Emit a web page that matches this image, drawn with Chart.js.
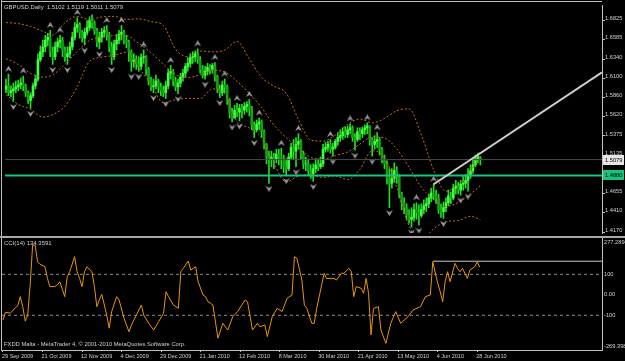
<!DOCTYPE html>
<html>
 <head>
  <meta charset="utf-8" />
  <title>GBPUSD,Daily</title>
  <style>
   html, body { margin: 0; padding: 0; background: #000; }
   #wrap { position: relative; width: 625px; height: 361px; background: #000; overflow: hidden; }
   canvas { position: absolute; left: 0; }
  </style>
 </head>
 <body>
  <div id="wrap">
   <canvas id="priceChart" width="625" height="238" style="top:0px"></canvas>
   <canvas id="cciChart" width="625" height="123" style="top:238px"></canvas>
  </div>

  <script src="https://cdnjs.cloudflare.com/ajax/libs/Chart.js/4.4.1/chart.umd.min.js"></script>
  <script>
// daily bars, 29 Sep 2009 .. 28 Jun 2010 (index = bar number)
const opens = [1.5960,1.6003,1.5918,1.5942,1.5966,1.5991,1.6015,1.6040,1.6003,1.5918,
1.5820,1.5881,1.6003,1.6089,1.6333,1.6431,1.6492,1.6577,1.6614,1.6431,
1.6370,1.6492,1.6553,1.6577,1.6455,1.6370,1.6407,1.6492,1.6614,1.6736,
1.6774,1.6675,1.6602,1.6675,1.6736,1.6822,1.6798,1.6699,1.6553,1.6614,
1.6675,1.6699,1.6651,1.6492,1.6370,1.6529,1.6577,1.6651,1.6675,1.6577,
1.6553,1.6431,1.6309,1.6333,1.6285,1.6248,1.6358,1.6370,1.6211,1.6064,
1.5991,1.6003,1.6064,1.5991,1.5942,1.5918,1.6003,1.6162,1.6187,1.6064,
1.5991,1.6040,1.6114,1.6162,1.6248,1.6285,1.6358,1.6370,1.6407,1.6333,
1.6211,1.6138,1.6187,1.6236,1.6211,1.6260,1.6126,1.5966,1.5918,1.6015,
1.5991,1.5820,1.5674,1.5600,1.5698,1.5674,1.5722,1.5698,1.5747,1.5771,
1.5722,1.5514,1.5453,1.5527,1.5551,1.5429,1.5270,1.5111,1.5087,1.5111,
1.5087,1.5148,1.5111,1.5087,1.4989,1.4965,1.5111,1.5233,1.5185,1.5270,
1.5307,1.5148,1.5026,1.5026,1.4940,1.4904,1.4965,1.5014,1.4989,1.5026,
1.5209,1.5233,1.5270,1.5209,1.5233,1.5307,1.5356,1.5380,1.5429,1.5392,
1.5453,1.5478,1.5356,1.5331,1.5429,1.5404,1.5453,1.5478,1.5502,1.5331,
1.5270,1.5307,1.5331,1.5209,1.5087,1.5026,1.4842,1.4781,1.4842,1.4940,
1.4867,1.4647,1.4537,1.4476,1.4378,1.4329,1.4354,1.4451,1.4415,1.4378,
1.4451,1.4500,1.4525,1.4598,1.4659,1.4622,1.4598,1.4451,1.4427,1.4476,
1.4537,1.4622,1.4598,1.4720,1.4745,1.4696,1.4769,1.4781,1.4818,1.4891,
1.4940,1.5014,1.5087,1.5102];

const highs = [1.6089,1.6150,1.6003,1.6040,1.6064,1.6077,1.6102,1.6126,1.6027,1.5942,
1.5918,1.6040,1.6138,1.6407,1.6504,1.6577,1.6638,1.6663,1.6699,1.6492,
1.6553,1.6602,1.6638,1.6614,1.6492,1.6492,1.6553,1.6675,1.6798,1.6859,
1.6798,1.6699,1.6724,1.6822,1.6871,1.6896,1.6822,1.6724,1.6675,1.6724,
1.6749,1.6761,1.6675,1.6553,1.6577,1.6651,1.6699,1.6761,1.6699,1.6638,
1.6577,1.6455,1.6407,1.6382,1.6370,1.6407,1.6455,1.6382,1.6236,1.6114,
1.6089,1.6138,1.6089,1.6040,1.6003,1.6064,1.6211,1.6260,1.6211,1.6114,
1.6089,1.6162,1.6211,1.6285,1.6358,1.6407,1.6431,1.6443,1.6468,1.6370,
1.6260,1.6248,1.6285,1.6272,1.6285,1.6297,1.6138,1.6015,1.6064,1.6089,
1.6015,1.5845,1.5722,1.5759,1.5783,1.5771,1.5771,1.5796,1.5808,1.5832,
1.5747,1.5551,1.5576,1.5600,1.5576,1.5453,1.5282,1.5185,1.5185,1.5160,
1.5209,1.5209,1.5221,1.5136,1.5087,1.5160,1.5282,1.5331,1.5356,1.5404,
1.5331,1.5185,1.5111,1.5087,1.5014,1.5026,1.5087,1.5087,1.5111,1.5270,
1.5294,1.5307,1.5331,1.5282,1.5331,1.5417,1.5453,1.5478,1.5490,1.5502,
1.5527,1.5502,1.5404,1.5478,1.5478,1.5490,1.5514,1.5539,1.5502,1.5356,
1.5380,1.5417,1.5356,1.5233,1.5136,1.5063,1.4965,1.4965,1.5038,1.4989,
1.4891,1.4671,1.4598,1.4525,1.4451,1.4476,1.4525,1.4537,1.4512,1.4525,
1.4574,1.4598,1.4647,1.4720,1.4769,1.4696,1.4647,1.4525,1.4549,1.4598,
1.4696,1.4671,1.4769,1.4818,1.4794,1.4818,1.4867,1.4891,1.4965,1.5014,
1.5087,1.5136,1.5160,1.5119];

const lows = [1.5918,1.5881,1.5869,1.5808,1.5918,1.5942,1.5966,1.5942,1.5869,1.5783,
1.5722,1.5857,1.5966,1.6064,1.6309,1.6370,1.6431,1.6504,1.6370,1.6272,
1.6333,1.6431,1.6480,1.6370,1.6309,1.6272,1.6358,1.6455,1.6577,1.6675,
1.6602,1.6553,1.6516,1.6638,1.6699,1.6724,1.6651,1.6492,1.6468,1.6553,
1.6614,1.6577,1.6431,1.6272,1.6333,1.6455,1.6529,1.6577,1.6529,1.6480,
1.6309,1.6187,1.6236,1.6211,1.6187,1.6211,1.6285,1.6138,1.6015,1.5942,
1.5918,1.5966,1.5918,1.5881,1.5869,1.5845,1.5966,1.6089,1.6003,1.5942,
1.5906,1.5991,1.6064,1.6114,1.6187,1.6236,1.6285,1.6309,1.6285,1.6162,
1.6102,1.6089,1.6138,1.6150,1.6162,1.6064,1.5918,1.5857,1.5881,1.5918,
1.5771,1.5600,1.5551,1.5600,1.5613,1.5564,1.5600,1.5649,1.5674,1.5625,
1.5453,1.5356,1.5429,1.5453,1.5356,1.5209,1.5026,1.4781,1.4989,1.4965,
1.5038,1.5014,1.4965,1.4916,1.4879,1.4940,1.5087,1.5087,1.4989,1.5209,
1.5087,1.4965,1.4940,1.4891,1.4842,1.4806,1.4916,1.4940,1.4965,1.4989,
1.5172,1.5185,1.5160,1.5123,1.5209,1.5258,1.5307,1.5331,1.5356,1.5356,
1.5404,1.5307,1.5197,1.5307,1.5331,1.5356,1.5392,1.5404,1.5258,1.5123,
1.5209,1.5233,1.5136,1.5038,1.4965,1.4769,1.4476,1.4720,1.4794,1.4781,
1.4598,1.4451,1.4402,1.4329,1.4280,1.4231,1.4305,1.4329,1.4256,1.4354,
1.4402,1.4427,1.4476,1.4549,1.4574,1.4525,1.4402,1.4354,1.4341,1.4427,
1.4500,1.4525,1.4574,1.4647,1.4647,1.4635,1.4696,1.4720,1.4684,1.4842,
1.4904,1.4989,1.5038,1.5011];

const closes = [1.6003,1.5918,1.5942,1.5966,1.5991,1.6015,1.6040,1.6003,1.5918,1.5820,
1.5881,1.6003,1.6089,1.6333,1.6431,1.6492,1.6577,1.6614,1.6431,1.6370,
1.6492,1.6553,1.6577,1.6455,1.6370,1.6407,1.6492,1.6614,1.6736,1.6774,
1.6675,1.6602,1.6675,1.6736,1.6822,1.6798,1.6699,1.6553,1.6614,1.6675,
1.6699,1.6651,1.6492,1.6370,1.6529,1.6577,1.6651,1.6675,1.6577,1.6553,
1.6431,1.6309,1.6333,1.6285,1.6248,1.6358,1.6370,1.6211,1.6064,1.5991,
1.6003,1.6064,1.5991,1.5942,1.5918,1.6003,1.6162,1.6187,1.6064,1.5991,
1.6040,1.6114,1.6162,1.6248,1.6285,1.6358,1.6370,1.6407,1.6333,1.6211,
1.6138,1.6187,1.6236,1.6211,1.6260,1.6126,1.5966,1.5918,1.6015,1.5991,
1.5820,1.5674,1.5600,1.5698,1.5674,1.5722,1.5698,1.5747,1.5771,1.5722,
1.5514,1.5453,1.5527,1.5551,1.5429,1.5270,1.5111,1.5087,1.5111,1.5087,
1.5148,1.5111,1.5087,1.4989,1.4965,1.5111,1.5233,1.5185,1.5270,1.5307,
1.5148,1.5026,1.5026,1.4940,1.4904,1.4965,1.5014,1.4989,1.5026,1.5209,
1.5233,1.5270,1.5209,1.5233,1.5307,1.5356,1.5380,1.5429,1.5392,1.5453,
1.5478,1.5356,1.5331,1.5429,1.5404,1.5453,1.5478,1.5502,1.5331,1.5270,
1.5307,1.5331,1.5209,1.5087,1.5026,1.4842,1.4781,1.4842,1.4940,1.4867,
1.4647,1.4537,1.4476,1.4378,1.4329,1.4354,1.4451,1.4415,1.4378,1.4451,
1.4500,1.4525,1.4598,1.4659,1.4622,1.4598,1.4451,1.4427,1.4476,1.4537,
1.4622,1.4598,1.4720,1.4745,1.4696,1.4769,1.4781,1.4818,1.4891,1.4940,
1.5014,1.5087,1.5123,1.5079];

// Bollinger bands (20) read at sample bars
const bandBars   = [0,5,10,15,19,24,29,34,39,44,49,54,59,64,69,74,79,84,89,94,99,104,109,114,119,124,129,134,139,144,149,154,159,164,169,174,179,184,189,193];
const bandUpper  = [1.6798,1.6785,1.6749,1.6688,1.6641,1.6796,1.6875,1.6836,1.6868,1.6875,1.6837,1.6844,1.6810,1.6762,1.6462,1.6370,1.6441,1.6430,1.6453,1.6561,1.6342,1.6110,1.6000,1.5912,1.5582,1.5323,1.5310,1.5387,1.5522,1.5588,1.5541,1.5595,1.5692,1.5715,1.5387,1.4949,1.4682,1.4767,1.4931,1.5176];
const bandMiddle = [1.6345,1.6272,1.6162,1.6113,1.6142,1.6273,1.6435,1.6573,1.6616,1.6631,1.6631,1.6536,1.6419,1.6278,1.6146,1.6108,1.6143,1.6198,1.6179,1.6060,1.5909,1.5731,1.5513,1.5355,1.5227,1.5106,1.5083,1.5130,1.5175,1.5273,1.5365,1.5350,1.5213,1.4982,1.4732,1.4580,1.4491,1.4541,1.4649,1.4751];
const bandLower  = [1.5893,1.5771,1.5710,1.5612,1.5643,1.5750,1.5995,1.6311,1.6364,1.6387,1.6426,1.6228,1.6028,1.5793,1.5831,1.5847,1.5844,1.5966,1.5904,1.5559,1.5475,1.5352,1.5027,1.4798,1.4873,1.4888,1.4855,1.4874,1.4828,1.4958,1.5189,1.5106,1.4734,1.4249,1.4077,1.4211,1.4299,1.4315,1.4367,1.4326];

// fractals
const fracUpBars   = [1,7,18,22,29,41,47,56,67,78,85,89,94,99,103,112,119,132,140,147,151,167,174];
const fracUpPrices = [1.6150,1.6126,1.6699,1.6638,1.6859,1.6761,1.6761,1.6455,1.6260,1.6468,1.6297,1.6089,1.5783,1.5832,1.5600,1.5221,1.5404,1.5331,1.5527,1.5539,1.5417,1.4537,1.4769];
const fracDnBars   = [3,10,19,25,32,38,43,51,54,60,65,70,81,87,92,95,101,107,114,118,125,133,142,149,156,165,168,178,185,188];
const fracDnPrices = [1.5808,1.5722,1.6272,1.6272,1.6516,1.6468,1.6272,1.6187,1.6187,1.5918,1.5845,1.5906,1.6089,1.5857,1.5551,1.5564,1.5356,1.4781,1.4879,1.4989,1.4806,1.5123,1.5197,1.5123,1.4476,1.4231,1.4256,1.4341,1.4635,1.4684];

// CCI(14)
const cciBars = [0,1,3,5,6,7,8,9,10,11,12,13,14,15,17,18,19,21,22,23,25,26,27,29,30,31,32,33,34,36,37,38,39,40,42,43,44,46,47,49,51,52,54,56,57,59,61,63,65,66,67,69,71,72,73,75,76,78,79,81,82,83,84,85,87,89,91,93,95,98,99,101,103,104,106,107,109,111,113,115,117,118,119,121,122,123,125,126,127,130,131,134,135,137,138,140,141,142,143,145,146,147,148,149,150,152,153,155,157,159,161,164,166,169,171,173,174,176,177,178,179,180,181,183,184,185,186,187,188,189,191,192,193];
const cciValues = [-123,-85,-90,-63,-53,-9,-58,-128,-99,48,243,243,161,149,137,80,40,40,48,64,-9,88,113,186,113,80,40,113,137,113,40,-58,-25,2,-99,-163,-82,-9,-25,-115,-180,-147,-99,-50,-99,-139,-172,-131,-90,15,-9,-50,-66,113,129,165,121,137,64,-1,-9,-34,-41,-50,-212,-139,-172,-107,-82,-25,-34,-172,-139,-156,-147,-204,-107,-66,-82,-17,-1,186,178,72,-50,-66,-139,-139,-66,105,80,80,72,105,105,129,113,-9,40,32,7,80,7,-196,-66,-58,-172,-237,-139,-82,-139,-107,-74,-58,-9,-1,161,56,15,-34,64,113,64,154,129,113,129,105,80,121,137,161,134];
const cciLevels = [100, -100];
const cciHLine = 164;

// objects
const bidPrice = 1.5079;
const hLinePrice = 1.4880;
const trendBars = [174, 242.5];
const trendPrices = [1.4769, 1.6174];

// axes
const priceTicks = [1.6825,1.6585,1.6340,1.6100,1.5860,1.5620,1.5375,1.5135,1.4895,1.4655,1.4410,1.4170];
const cciTicks = [277.2894, 100, 0, -100, -269.398];
const cciTickLabels = ['277.2894', '100', '0.00', '-100', '-269.398'];
const dateBars = [0,16,32,48,64,80,96,112,128,144,160,176,192];
const dateLabels = ['29 Sep 2009','21 Oct 2009','12 Nov 2009','4 Dec 2009','29 Dec 2009','21 Jan 2010','12 Feb 2010','8 Mar 2010','30 Mar 2010','21 Apr 2010','13 May 2010','4 Jun 2010','28 Jun 2010'];

const titleText = 'GBPUSD,Daily  1.5102 1.5119 1.5011 1.5079';
const cciTitle = 'CCI(14) 134.3591';
const footerText = 'FXDD Malta - MetaTrader 4, \u00a9 2001-2010 MetaQuotes Software Corp.';

const X_MIN = -0.4, X_MAX = 242.5;
const FONT = "'Liberation Sans', Arial, sans-serif";
const AXIS_COL = '#c0c0c0';
const TEXT_COL = '#d0d0d0';

Chart.defaults.font.family = FONT;
Chart.defaults.font.size = 6;

function arrowImage(up) {
    const c = document.createElement('canvas');
    c.width = 7; c.height = 17;
    const g = c.getContext('2d');
    g.fillStyle = '#9a9a9a';
    g.beginPath();
    if (up) { g.moveTo(3.5, 0); g.lineTo(7, 6); g.lineTo(3.5, 4); g.lineTo(0, 6); }
    else    { g.moveTo(3.5, 17); g.lineTo(7, 11); g.lineTo(3.5, 13); g.lineTo(0, 11); }
    g.closePath();
    g.fill();
    return c;
}

const pts = (xs, ys) => xs.map((x, i) => ({ x: x, y: ys[i] }));
const span = v => [{ x: X_MIN, y: v }, { x: X_MAX, y: v }];

const blackBg = {
    id: 'blackBg',
    beforeDraw(chart) {
        const c = chart.ctx;
        c.save(); c.fillStyle = '#000'; c.fillRect(0, 0, chart.width, chart.height); c.restore();
    }
};

/////////price window
const priceDecor = {
    id: 'priceDecor',
    afterDatasetsDraw(chart) {
        const c = chart.ctx;
        c.save();
        c.font = '5.9px ' + FONT;
        c.fillStyle = TEXT_COL;
        c.textBaseline = 'middle';
        c.fillText(titleText, 4, 7);
        c.restore();
    },
    afterDraw(chart) {
        const c = chart.ctx, a = chart.chartArea, y = chart.scales.y;
        c.save();
        c.fillStyle = AXIS_COL;
        c.fillRect(1, 0, 1, chart.height);
        c.fillRect(1, 1, a.right - 1, 1);
        c.fillStyle = '#a8a8a8';
        c.fillRect(0, 236, chart.width, 2);
        // price tags
        const tags = [[bidPrice, '#e6e6e6', '#000'], [hLinePrice, '#19c37d', '#000']];
        c.font = '5.7px ' + FONT;
        c.textBaseline = 'middle';
        tags.forEach(t => {
            const py = Math.round(y.getPixelForValue(t[0]));
            c.fillStyle = t[1];
            c.fillRect(a.right + 1, py - 5, 21, 10);
            c.fillStyle = t[2];
            c.fillText(t[0].toFixed(4), a.right + 3, py);
        });
        c.restore();
    }
};

new Chart(document.getElementById('priceChart'), {
    type: 'bar',
    data: {
        datasets: [
            { type: 'line', data: pts(trendBars, trendPrices), borderColor: '#cfcfcf', borderWidth: 2, pointRadius: 0, order: 0 },
            { type: 'line', data: span(hLinePrice), borderColor: '#19c37d', borderWidth: 2, pointRadius: 0, order: 1 },
            { type: 'line', data: span(bidPrice), borderColor: '#4a4a4a', borderWidth: 1, pointRadius: 0, order: 2 },
            { type: 'line', data: pts(fracUpBars, fracUpPrices), showLine: false, pointStyle: arrowImage(true), pointRadius: 3, order: 3 },
            { type: 'line', data: pts(fracDnBars, fracDnPrices), showLine: false, pointStyle: arrowImage(false), pointRadius: 3, order: 3 },
            { type: 'line', data: pts(bandBars, bandUpper), borderColor: '#c0701e', borderWidth: 1, borderDash: [2, 2], pointRadius: 0, cubicInterpolationMode: 'monotone', order: 4 },
            { type: 'line', data: pts(bandBars, bandMiddle), borderColor: '#c0701e', borderWidth: 1, borderDash: [2, 2], pointRadius: 0, cubicInterpolationMode: 'monotone', order: 4 },
            { type: 'line', data: pts(bandBars, bandLower), borderColor: '#c0701e', borderWidth: 1, borderDash: [2, 2], pointRadius: 0, cubicInterpolationMode: 'monotone', order: 4 },
            {
                label: 'body',
                data: closes.map((c, i) => ({ x: i, y: [opens[i], c] })),
                backgroundColor: ctx => closes[ctx.dataIndex] >= opens[ctx.dataIndex] ? '#40ff40' : '#12a012',
                barThickness: 2, grouped: false, borderWidth: 0, order: 5
            },
            {
                label: 'wick',
                data: closes.map((c, i) => ({ x: i, y: [lows[i], highs[i]] })),
                backgroundColor: '#22dd22',
                barThickness: 1, grouped: false, borderWidth: 0, order: 6
            }
        ]
    },
    options: {
        responsive: false, animation: false, devicePixelRatio: 1, events: [],
        layout: { padding: { left: 2, top: 2, bottom: 2, right: 0 } },
        plugins: { legend: { display: false }, tooltip: { enabled: false } },
        scales: {
            x: { type: 'linear', min: X_MIN, max: X_MAX, offset: false, display: false, grid: { offset: false } },
            y: {
                position: 'right', min: 1.4158, max: 1.7018, beginAtZero: false,
                afterFit: s => { s.width = 23; },
                afterBuildTicks: s => { s.ticks = priceTicks.map(v => ({ value: v })); },
                ticks: { autoSkip: false, padding: 0, labelOffset: -2, color: TEXT_COL, font: { size: 5.7 }, callback: v => v.toFixed(4) },
                grid: { drawOnChartArea: false, drawTicks: true, tickLength: 3, color: AXIS_COL },
                border: { display: true, color: AXIS_COL }
            }
        }
    },
    plugins: [blackBg, priceDecor]
});

/////////CCI window
const cciDecor = {
    id: 'cciDecor',
    afterDraw(chart) {
        const c = chart.ctx, a = chart.chartArea, y = chart.scales.y;
        c.save();
        c.fillStyle = AXIS_COL;
        c.fillRect(1, 0, 1, a.bottom + 1);
        c.font = '5.7px ' + FONT;
        c.fillStyle = TEXT_COL;
        c.textBaseline = 'middle';
        cciTicks.forEach((v, i) => {
            let py = y.getPixelForValue(v);
            py = Math.min(Math.max(py, a.top + 4), a.bottom - 4);
            c.fillText(cciTickLabels[i], a.right + 2, py);
        });
        c.font = '6px ' + FONT;
        c.fillText(cciTitle, 4, 5);
        c.font = '5.8px ' + FONT;
        c.fillText(footerText, 4, 106);
        c.restore();
    }
};

new Chart(document.getElementById('cciChart'), {
    type: 'line',
    data: {
        datasets: [
            { data: [{ x: trendBars[0], y: cciHLine }, { x: X_MAX, y: cciHLine }], borderColor: '#c8c8c8', borderWidth: 1, pointRadius: 0, order: 0 },
            { data: pts(cciBars, cciValues), borderColor: '#e8940a', borderWidth: 1, pointRadius: 0, order: 1 },
            { data: span(cciLevels[0]), borderColor: '#8c8c8c', borderWidth: 1, borderDash: [3, 3], pointRadius: 0, order: 2 },
            { data: span(cciLevels[1]), borderColor: '#8c8c8c', borderWidth: 1, borderDash: [3, 3], pointRadius: 0, order: 2 }
        ]
    },
    options: {
        responsive: false, animation: false, devicePixelRatio: 1, events: [],
        layout: { padding: { left: 2, top: 0, bottom: 0, right: 0 } },
        plugins: { legend: { display: false }, tooltip: { enabled: false } },
        scales: {
            x: {
                type: 'linear', min: X_MIN, max: X_MAX, offset: false,
                afterFit: s => { s.height = 11; },
                afterBuildTicks: s => { s.ticks = dateBars.map(v => ({ value: v })); },
                ticks: { autoSkip: false, maxRotation: 0, align: 'start', padding: 1, labelOffset: -1, color: TEXT_COL, font: { size: 5.5 }, callback: (v, i) => dateLabels[i] },
                grid: { drawOnChartArea: false, drawTicks: true, tickLength: 2, color: AXIS_COL },
                border: { display: true, color: AXIS_COL }
            },
            y: {
                position: 'right', min: -269.398, max: 277.2894,
                afterFit: s => { s.width = 23; },
                ticks: { display: false },
                grid: { display: false },
                border: { display: true, color: AXIS_COL }
            }
        }
    },
    plugins: [blackBg, cciDecor]
});
  </script>
 </body>
</html>
